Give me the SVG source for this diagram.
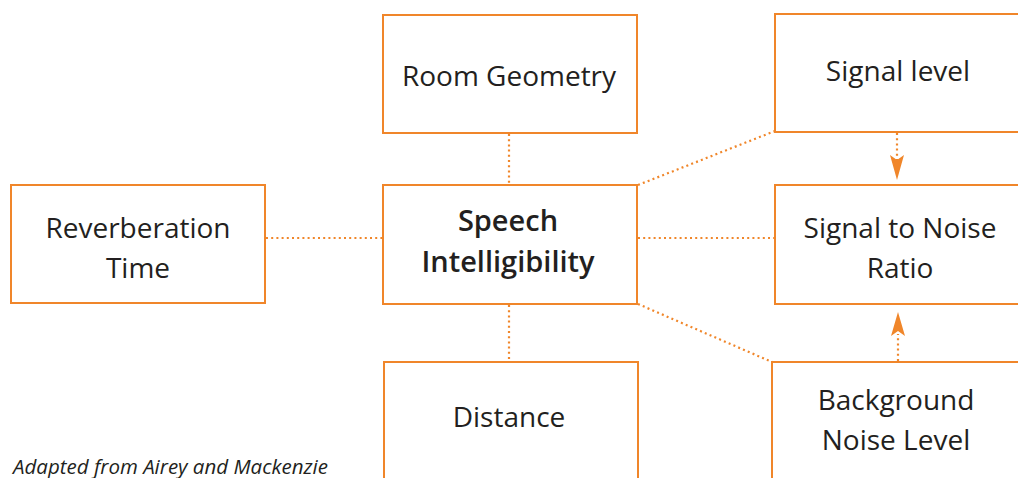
<svg xmlns="http://www.w3.org/2000/svg" width="1018" height="478" viewBox="0 0 1018 478">
<style>
.box{fill:#fff;stroke:#f0862a;stroke-width:2}
.lbl{font-family:"Open Sans","Noto Sans",sans-serif;font-size:28px;fill:#231f20;text-anchor:middle}
.b{font-weight:600;font-size:29px}
.con{stroke:#f0862a;stroke-width:2.2;stroke-dasharray:2 3.2;fill:none}
.cap{font-family:"Open Sans","Noto Sans",sans-serif;font-size:20.5px;font-style:italic;fill:#231f20}
</style>
<g id="connectors">
<line class="con" x1="509" y1="134" x2="509" y2="184"/>
<line class="con" x1="266" y1="238" x2="382" y2="238"/>
<line class="con" x1="638" y1="238" x2="774" y2="238"/>
<line class="con" x1="638" y1="185" x2="775" y2="131"/>
<line class="con" x1="638" y1="304" x2="772" y2="362"/>
<line class="con" x1="509" y1="305" x2="509" y2="361"/>
<line class="con" x1="897" y1="133" x2="897" y2="160"/>
<path d="M890,155 L897,180 L904,155 L897,160 Z" fill="#f0862a"/>
<line class="con" x1="898" y1="361" x2="898" y2="334"/>
<path d="M891,336 L898,312 L905,336 L898,331 Z" fill="#f0862a"/>
</g>
<g id="room-geometry">
<rect class="box" x="383" y="15" width="254" height="118"/>
<text class="lbl" x="509" y="86">Room Geometry</text>
</g>
<g id="signal-level">
<rect class="box" x="775" y="14" width="260" height="118"/>
<text class="lbl" x="898" y="81">Signal level</text>
</g>
<g id="reverberation-time">
<rect class="box" x="11" y="185" width="254" height="118"/>
<text class="lbl" x="138" y="238">Reverberation</text>
<text class="lbl" x="138" y="278">Time</text>
</g>
<g id="speech-intelligibility">
<rect class="box" x="383" y="185" width="254" height="119"/>
<text class="lbl b" x="508" y="231">Speech</text>
<text class="lbl b" x="508" y="272">Intelligibility</text>
</g>
<g id="signal-to-noise">
<rect class="box" x="775" y="185" width="260" height="119"/>
<text class="lbl" x="900" y="238">Signal to Noise</text>
<text class="lbl" x="900" y="278">Ratio</text>
</g>
<g id="distance">
<rect class="box" x="384" y="362" width="254" height="130"/>
<text class="lbl" x="509" y="427">Distance</text>
</g>
<g id="background-noise">
<rect class="box" x="772" y="362" width="260" height="130"/>
<text class="lbl" x="896" y="410">Background</text>
<text class="lbl" x="896" y="450">Noise Level</text>
</g>
<text class="cap" x="13" y="474">Adapted from Airey and Mackenzie</text>
</svg>
